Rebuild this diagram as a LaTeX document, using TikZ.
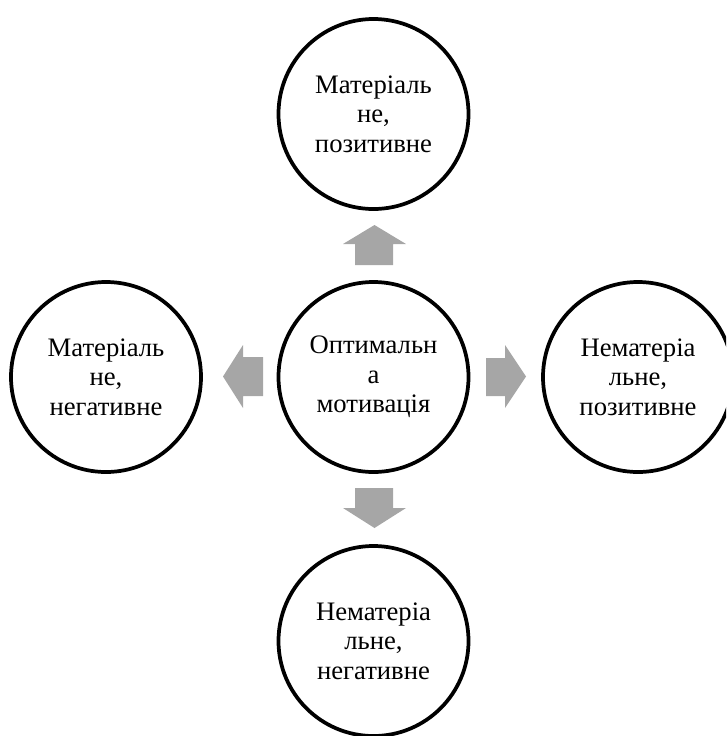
\documentclass[tikz,border=0pt]{standalone}
\usepackage{fontspec}
\setmainfont{Liberation Serif}
\begin{document}
\begin{tikzpicture}[x=0.75pt,y=-0.75pt,
  bubble/.style={circle,draw=black,line width=2.8pt,minimum size=142.5pt,inner sep=0pt,
    align=center,font=\fontsize{20pt}{21pt}\selectfont},
  blockarrow/.style={fill=arrowgray,draw=none}]
\definecolor{arrowgray}{RGB}{166,166,166}
\useasboundingbox (0,0) rectangle (726,736);
\clip (0,0) rectangle (726,736);
\node[bubble] (top) at (373.5,114) {Матеріаль\\[1pt]не,\\[1pt]позитивне};
\node[bubble] (mid) at (373.5,377) {Оптимальн\\[1pt]а\\[1pt]мотивація};
\node[bubble] (left) at (106,377) {Матеріаль\\[1pt]не,\\[1pt]негативне};
\node[bubble] (right) at (638,377) {Нематеріа\\[1pt]льне,\\[1pt]позитивне};
\node[bubble] (bot) at (373.5,641) {Нематеріа\\[1pt]льне,\\[1pt]негативне};
% up arrow
\fill[blockarrow] (374.5,225) -- (406,244) -- (393,244) -- (393,265) -- (355,265) -- (355,244) -- (343,244) -- cycle;
% down arrow
\fill[blockarrow] (374.5,528) -- (406,508) -- (393,508) -- (393,488) -- (355,488) -- (355,508) -- (343,508) -- cycle;
% left arrow
\fill[blockarrow] (223,376.5) -- (243,345) -- (243,357) -- (263,357) -- (263,396) -- (243,396) -- (243,408) -- cycle;
% right arrow
\fill[blockarrow] (526,376.5) -- (505,345) -- (505,358) -- (486,358) -- (486,396) -- (505,396) -- (505,408) -- cycle;
\end{tikzpicture}
\end{document}
